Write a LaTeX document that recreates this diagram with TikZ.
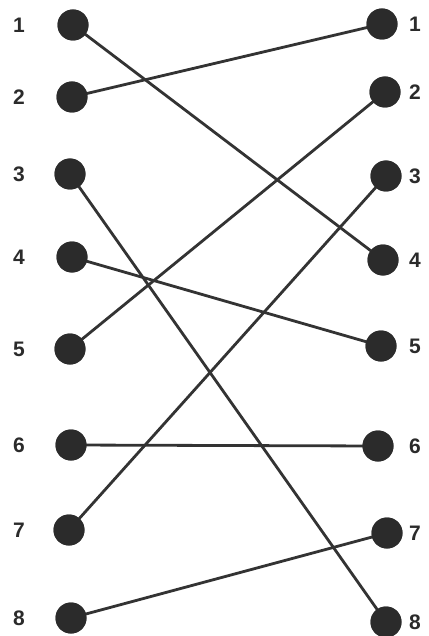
\documentclass[tikz,border=0pt]{standalone}
\usepackage{fontspec}
\setmainfont{Liberation Sans}
\definecolor{dotc}{HTML}{2B2B2B}
\definecolor{linec}{HTML}{333333}
\begin{document}
\begin{tikzpicture}[x=1pt,y=-1pt,
  dot/.style={circle,fill=dotc,minimum size=31pt,inner sep=0pt},
  num/.style={font=\bfseries\fontsize{21}{21}\selectfont,text=dotc,inner sep=0pt},
  wire/.style={draw=linec,line width=2.8pt}]
\useasboundingbox[fill=white] (0,0) rectangle (428,636);
% left dots
\node[dot] (L1) at (73,25) {};
\node[dot] (L2) at (72,97) {};
\node[dot] (L3) at (70,174) {};
\node[dot] (L4) at (72,257) {};
\node[dot] (L5) at (70,349) {};
\node[dot] (L6) at (71,445) {};
\node[dot] (L7) at (69,530) {};
\node[dot] (L8) at (71,618) {};
% right dots
\node[dot] (R1) at (382,24) {};
\node[dot] (R2) at (385,92) {};
\node[dot] (R3) at (386,176) {};
\node[dot] (R4) at (383,260) {};
\node[dot] (R5) at (381,346) {};
\node[dot] (R6) at (378,446) {};
\node[dot] (R7) at (387,533) {};
\node[dot] (R8) at (386,622) {};
% labels
\foreach \i/\y in {1/25,2/97,3/174,4/257,5/349,6/445,7/530,8/618}
  \node[num] (lab\i) at (19,\y) {\i};
\foreach \i/\y in {1/24,2/92,3/176,4/260,5/346,6/446,7/533,8/622}
  \node[num] (rab\i) at (415,\y) {\i};
% connectors
\path[wire] (L1.center) -- (R4.center);
\path[wire] (L2.center) -- (R1.center);
\path[wire] (L3.center) -- (R8.center);
\path[wire] (L4.center) -- (R5.center);
\path[wire] (L5.center) -- (R2.center);
\path[wire] (L6.center) -- (R6.center);
\path[wire] (L7.center) -- (R3.center);
\path[wire] (L8.center) -- (R7.center);
% redraw dots on top of connectors
\foreach \n in {L1,L2,L3,L4,L5,L6,L7,L8,R1,R2,R3,R4,R5,R6,R7,R8}
  \fill[dotc] (\n.center) circle (15.5pt);
\end{tikzpicture}
\end{document}
